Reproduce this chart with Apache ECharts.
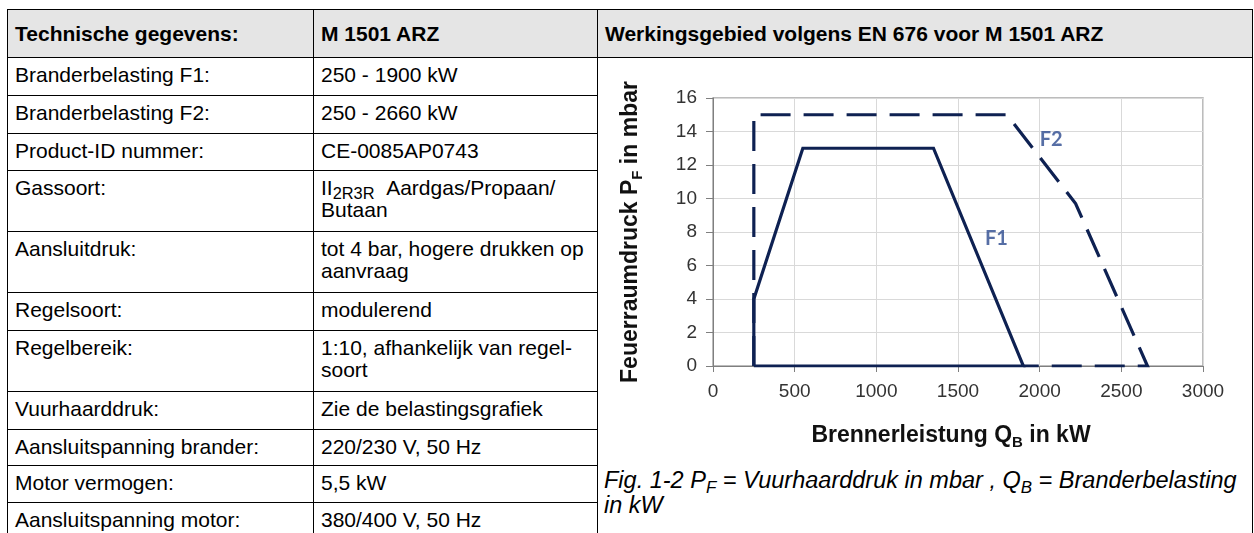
<!DOCTYPE html>
<html>
<head>
<meta charset="utf-8">
<script src="https://cdn.jsdelivr.net/npm/echarts/dist/echarts.min.js"></script>
<style>
html,body{margin:0;padding:0;background:#fff;width:1254px;height:533px;overflow:hidden;}
#tbl{position:absolute;left:7px;top:9px;border-collapse:collapse;table-layout:fixed;font-family:"Liberation Sans",Arial,sans-serif;font-size:21px;color:#000;}
#tbl td,#tbl th{border:1px solid #000;box-sizing:border-box;}
#tbl td{padding:6px 7px 0 7px;vertical-align:top;line-height:22px;white-space:nowrap;overflow:hidden;}
#tbl th{background:#e5e5e5;font-weight:bold;text-align:left;vertical-align:middle;padding:0 7px;line-height:24px;white-space:nowrap;}
#tbl sub{font-size:0.78em;vertical-align:-0.25em;line-height:0;}
#caption{position:absolute;left:604px;top:468px;font-family:"Liberation Sans",Arial,sans-serif;font-style:italic;font-size:23.5px;line-height:25px;white-space:nowrap;color:#000;}
#caption sub{font-size:0.72em;vertical-align:-0.28em;line-height:0;}
#chart{position:absolute;left:0;top:0;width:1254px;height:533px;z-index:2;}
</style>
</head>
<body>
<table id="tbl"></table>
<div id="caption"></div>
<div id="chart"></div>
<script>
// ---------- data ----------
const headerTexts = ['Technische gegevens:', 'M 1501 ARZ', 'Werkingsgebied volgens EN 676 voor M 1501 ARZ'];
const specLabels = [
  'Branderbelasting F1:',
  'Branderbelasting F2:',
  'Product-ID nummer:',
  'Gassoort:',
  'Aansluitdruk:',
  'Regelsoort:',
  'Regelbereik:',
  'Vuurhaarddruk:',
  'Aansluitspanning brander:',
  'Motor vermogen:',
  'Aansluitspanning motor:'
];
const specValues = [
  '250 - 1900 kW',
  '250 - 2660 kW',
  'CE-0085AP0743',
  'II<sub>2R3R</sub>&nbsp;&nbsp;Aardgas/Propaan/<br>Butaan',
  'tot 4 bar, hogere drukken op<br>aanvraag',
  'modulerend',
  '1:10, afhankelijk van regel-<br>soort',
  'Zie de belastingsgrafiek',
  '220/230 V, 50 Hz',
  '5,5 kW',
  '380/400 V, 50 Hz'
];
const captionText = 'Fig. 1-2 P<sub>F</sub> = Vuurhaarddruk in mbar , Q<sub>B</sub> = Branderbelasting<br>in kW';

const xMin = 0, xMax = 3000, xStep = 500;
const yMin = 0, yMax = 16, yStep = 2;
const xTitle = ['Brennerleistung Q', 'B', ' in kW'];
const yTitle = ['Feuerraumdruck P', 'F', ' in mbar'];

const f1Load     = [250, 250, 550, 1350, 1900, 250];
const f1Pressure = [0,   4,   13,  13,   0,    0];
const f2Load     = [250, 250, 1800, 2220, 2660, 1900];
const f2Pressure = [0,   15,  15,   9.7,  0,    0];

const curveNames    = ['F1', 'F2'];
const labelLoad     = [1735, 2071];
const labelPressure = [7.6, 13.5];

// ---------- table layout ----------
const colWidths = [306, 284, 655];
const headerHeight = 48;
const rowHeights = [38, 38, 37, 61, 61, 38, 61, 38, 36, 37, 37];

const tbl = document.getElementById('tbl');
let html = '<colgroup>' + colWidths.map(w => '<col style="width:' + w + 'px">').join('') + '</colgroup>';
html += '<tr style="height:' + headerHeight + 'px">' + headerTexts.map(t => '<th>' + t + '</th>').join('') + '</tr>';
specLabels.forEach((lab, i) => {
  html += '<tr style="height:' + rowHeights[i] + 'px"><td>' + lab + '</td><td>' + specValues[i] + '</td>';
  if (i === 0) html += '<td rowspan="' + specLabels.length + '"></td>';
  html += '</tr>';
});
tbl.innerHTML = html;
tbl.style.width = colWidths.reduce((a, b) => a + b, 0) + 'px';
document.getElementById('caption').innerHTML = captionText;

// ---------- chart ----------
const pairs = (xs, ys) => xs.map((x, i) => [x, ys[i]]);
const lineColor = '#0e2152';
const font = '"Liberation Sans", Arial, sans-serif';
const axisGray = '#7f7f7f';
const titleRich = {
  t: { fontSize: 23, fontWeight: 'bold', fontFamily: font, color: '#111', lineHeight: 28, verticalAlign: 'middle' },
  s: { fontSize: 15, fontWeight: 'bold', fontFamily: font, color: '#111', lineHeight: 14, verticalAlign: 'bottom' }
};

const chart = echarts.init(document.getElementById('chart'), null, { renderer: 'canvas' });
chart.setOption({
  animation: false,
  grid: { left: 713, top: 98, width: 490, height: 268, show: true, borderColor: '#a6a6a6', borderWidth: 1.5 },
  xAxis: {
    type: 'value', min: xMin, max: xMax, interval: xStep,
    name: '{t|' + xTitle[0] + '}{s|' + xTitle[1] + '}{t|' + xTitle[2] + '}',
    nameLocation: 'middle', nameGap: 56,
    nameTextStyle: { padding: [0, 14, 0, 0], rich: titleRich },
    axisLine: { show: true, onZero: false, lineStyle: { color: axisGray, width: 1 } },
    axisTick: { show: true, length: 6, lineStyle: { color: axisGray } },
    axisLabel: { fontSize: 19, color: '#333', margin: 16, fontFamily: font, formatter: v => String(v) },
    splitLine: { show: true, lineStyle: { color: '#d9d9d9', width: 1 } }
  },
  yAxis: {
    type: 'value', min: yMin, max: yMax, interval: yStep,
    name: '{t|' + yTitle[0] + '}{s|' + yTitle[1] + '}{t|' + yTitle[2] + '}',
    nameLocation: 'middle', nameGap: 68, nameRotate: 90,
    nameTextStyle: { rich: titleRich },
    axisLine: { show: true, onZero: false, lineStyle: { color: axisGray, width: 1 } },
    axisTick: { show: true, length: 7, lineStyle: { color: axisGray } },
    axisLabel: { fontSize: 19, color: '#333', margin: 16, fontFamily: font, formatter: v => String(v) },
    splitLine: { show: true, lineStyle: { color: '#d9d9d9', width: 1 } }
  },
  series: [
    {
      type: 'line', name: curveNames[1], data: pairs(f2Load, f2Pressure), symbol: 'none', z: 2,
      lineStyle: { color: lineColor, width: 3.2, type: [30, 13], cap: 'butt', join: 'miter' }
    },
    {
      type: 'line', name: curveNames[0], data: pairs(f1Load, f1Pressure), symbol: 'none', z: 3,
      lineStyle: { color: lineColor, width: 3.2, type: 'solid', join: 'miter' }
    },
    {
      type: 'scatter', data: pairs(labelLoad, labelPressure), symbolSize: 0, z: 4,
      itemStyle: { color: 'transparent' },
      label: {
        show: true, position: 'inside',
        formatter: p => curveNames[p.dataIndex],
        fontFamily: 'Lato, "Open Sans", sans-serif', fontWeight: 'bold', fontSize: 20, color: '#2c4a8e'
      }
    }
  ]
});
</script>
</body>
</html>
